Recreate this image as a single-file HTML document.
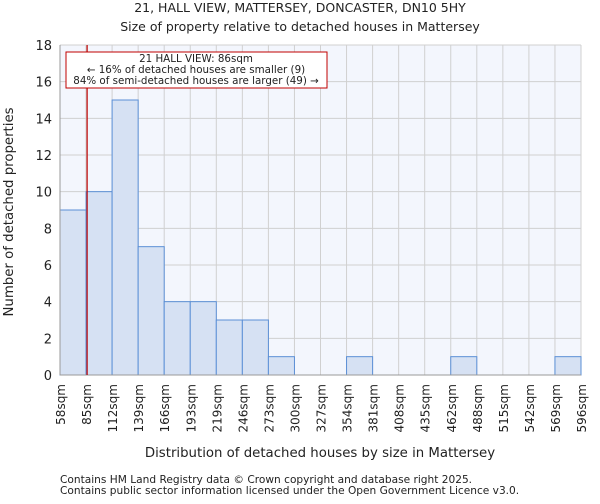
<!DOCTYPE html>
<html><head><meta charset="utf-8"><style>
body{margin:0;background:#fff;font-family:"DejaVu Sans","Liberation Sans",sans-serif}
svg text{font-family:"DejaVu Sans","Liberation Sans",sans-serif;fill:#222}
</style></head><body>
<svg id="chart" width="600" height="500">
<text x="300" y="12" font-size="12.5" text-anchor="middle">21, HALL VIEW, MATTERSEY, DONCASTER, DN10 5HY</text>
<text x="300" y="31" font-size="12.5" text-anchor="middle">Size of property relative to detached houses in Mattersey</text>
<rect x="60" y="45" width="521" height="330" fill="#f3f6fd"/>
<g id="grid"></g><g id="bars"></g><g id="xt"></g><g id="yt"></g>
<line x1="60" y1="45" x2="60" y2="375" stroke="#999"/>
<line x1="60" y1="375" x2="581" y2="375" stroke="#999"/>
<line id="marker" y1="45" y2="375" stroke="#c00000" stroke-width="1.2"/>
<rect x="66" y="52" width="261" height="36" fill="#fff" stroke="#c00000"/>
<text x="196" y="62" font-size="10.3" text-anchor="middle">21 HALL VIEW: 86sqm</text>
<text x="196" y="73" font-size="10.3" text-anchor="middle">← 16% of detached houses are smaller (9)</text>
<text x="196" y="84" font-size="10.3" text-anchor="middle">84% of semi-detached houses are larger (49) →</text>
<text x="320" y="457" font-size="13.3" text-anchor="middle">Distribution of detached houses by size in Mattersey</text>
<text transform="translate(13,212) rotate(-90)" font-size="13.3" text-anchor="middle">Number of detached properties</text>
<text x="60" y="483" font-size="10.6" fill="#444">Contains HM Land Registry data © Crown copyright and database right 2025.</text>
<text x="60" y="494" font-size="10.6" fill="#444">Contains public sector information licensed under the Open Government Licence v3.0.</text>
</svg>
<script>
const binLabels=["58sqm","85sqm","112sqm","139sqm","166sqm","193sqm","219sqm","246sqm","273sqm","300sqm","327sqm","354sqm","381sqm","408sqm","435sqm","462sqm","488sqm","515sqm","542sqm","569sqm","596sqm"];
const counts=[9,10,15,7,4,4,3,3,1,0,0,1,0,0,0,1,0,0,0,1];
const yTicks=[0,2,4,6,8,10,12,14,16,18];
const propertySize=86;
const xMin=58,xMax=596,yMax=18;
const L=60,R=581,T=45,B=375;
const NS="http://www.w3.org/2000/svg";
const bw=(R-L)/counts.length;
const xb=i=>L+i*bw;
const xv=v=>L+(v-xMin)/(xMax-xMin)*(R-L);
const y=v=>B-v/yMax*(B-T);
function mk(tag,attrs,parent){const e=document.createElementNS(NS,tag);for(const k in attrs)e.setAttribute(k,attrs[k]);document.getElementById(parent).appendChild(e);return e;}
yTicks.forEach(t=>{
 const g=mk('line',{x1:L,x2:R,y1:y(t),y2:y(t),stroke:'#d0d0d0'},'grid');
 
 
 const tx=mk('text',{x:L-8,y:y(t)+5,'font-size':13,'text-anchor':'end'},'yt');
 tx.textContent=t;
 
 
});
binLabels.forEach((lb,i)=>{
 const x=xb(i);
 const g=mk('line',{x1:x,x2:x,y1:T,y2:B,stroke:'#d0d0d0'},'grid');
 
 
 const tx=mk('text',{transform:`translate(${x+5},384) rotate(-90)`,'font-size':12,'text-anchor':'end'},'xt');
 tx.textContent=lb;
 
 
});
counts.forEach((c,i)=>{
 if(c<=0)return;
 const r=mk('rect',{x:xb(i),y:y(c),width:bw,height:B-y(c),fill:'#d6e1f3',stroke:'#5b8fd6','stroke-width':1},'bars');
 
 
});
const m=document.getElementById('marker');
m.setAttribute('x1',xv(propertySize));m.setAttribute('x2',xv(propertySize));
</script>
</body></html>
